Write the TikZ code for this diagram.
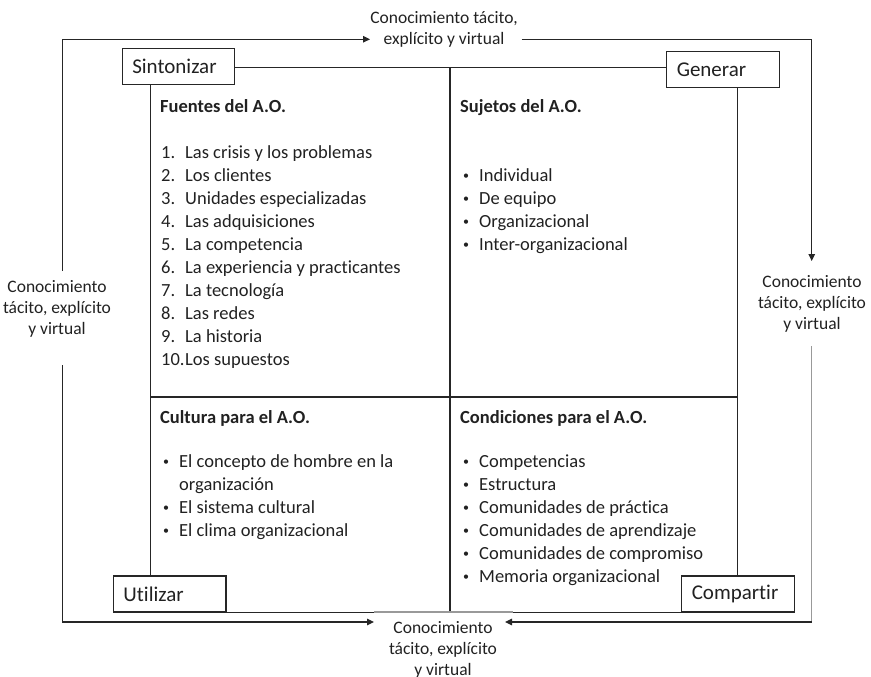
\documentclass[tikz,border=0pt]{standalone}
\usepackage{fontspec}
\setmainfont{Carlito}[Ligatures=NoCommon]
\usetikzlibrary{arrows.meta}
\newcommand{\bul}{\makebox[16pt][l]{\raisebox{1.6pt}{\fontsize{12}{12}\selectfont •}}}
\begin{document}
\begin{tikzpicture}[x=1pt,y=-1pt,
 ln/.style={draw=black!85, line width=1.2pt},
 lnlight/.style={draw=black!40, line width=1.2pt},
 arr/.style={ln, -{Triangle[length=7pt,width=6.5pt]}},
 box/.style={draw=black!85, line width=1.2pt, fill=white, minimum width=112.5pt, minimum height=36pt, text width=92.5pt, inner xsep=10pt, inner ysep=0pt, align=left, font=\fontsize{21}{25}\selectfont, text=black!87},
 lab/.style={align=center, inner sep=0pt, font=\fontsize{17.5}{21}\selectfont, text=black!87},
 ttl/.style={anchor=base west, inner sep=0pt, font=\fontsize{18.5}{23}\selectfont\bfseries, text=black!87},
 itm/.style={anchor=base west, inner sep=0pt, font=\fontsize{18.5}{23}\selectfont, text=black!87}]
\useasboundingbox (0,0) rectangle (871,677);

% corner boxes
\node[box] (sint) at (178.5,66.4) {Sintonizar};
\node[box] (gen)  at (723,69.4) {Generar};
\node[box] (util) at (169.7,594) {Utilizar};
\node[box] (comp) at (738,594) {Compartir};

% inner grid coordinates
\coordinate (mt) at (450,67.3);
\coordinate (mb) at (450,611.7);
\coordinate (lv) at (150.3,397);
\coordinate (rv) at (737.7,397);

\draw[ln] (sint.east |- mt) -- (gen.west |- mt);
\draw[ln] (mt) -- (mb);
\draw[ln] (sint.south -| lv) -- (util.north -| lv);
\draw[ln] (gen.south -| rv) -- (comp.north -| rv);
\draw[ln] (lv) -- (rv);
\draw[ln] (util.south east) -- (comp.south west);
\draw[lnlight] (374,612) -- (513,612);

% outer labels
\node[lab] (labT) at (444,29.5) {Conocimiento tácito,\\explícito y virtual};
\node[lab] (labL) at (57,308.5) {Conocimiento\\tácito, explícito\\y virtual};
\node[lab] (labR) at (812,304) {Conocimiento\\tácito, explícito\\y virtual};
\node[lab] (labB) at (443,650) {Conocimiento\\tácito, explícito\\y virtual};

% outer connector coordinates
\coordinate (lo1) at (62.7,271);
\coordinate (lo2) at (62.7,365);
\coordinate (ta) at (370,39.3);
\coordinate (tb) at (521.7,39.3);
\coordinate (ra) at (811.7,261);
\coordinate (rb) at (811.7,346);
\coordinate (rc) at (811.7,622);
\coordinate (ba) at (505,622);
\coordinate (bb) at (374,622);

\draw[arr] (lo1) |- (ta);
\draw[arr] (tb) -| (ra);
\draw[lnlight] (rb) -- (rc);
\draw[arr] (rc) -- (ba);
\draw[arr] (lo2) |- (bb);

% Fuentes
\node[ttl] (tF) at (160,113) {Fuentes del A.O.};
\foreach \n/\t [count=\i from 0] in {1./Las crisis y los problemas, 2./Los clientes, 3./Unidades especializadas, 4./Las adquisiciones, 5./La competencia, 6./La experiencia y practicantes, 7./La tecnología, 8./Las redes, 9./La historia, 10./Los supuestos}
  \node[itm] (f\i) at (161,158.5+23*\i) {\makebox[24pt][l]{\n}\t};

% Sujetos
\node[ttl] (tS) at (460,113) {Sujetos del A.O.};
\foreach \t [count=\i from 0] in {Individual, De equipo, Organizacional, Inter-organizacional}
  \node[itm] (s\i) at (463,181+23*\i) {\bul\t};

% Cultura
\node[ttl] (tC) at (160,423) {Cultura para el A.O.};
\node[itm] (c0) at (163,467) {\bul El concepto de hombre en la};
\node[itm] (c1) at (179,490) {organización};
\node[itm] (c2) at (163,513) {\bul El sistema cultural};
\node[itm] (c3) at (163,536) {\bul El clima organizacional};

% Condiciones
\node[ttl] (tD) at (460,423) {Condiciones para el A.O.};
\foreach \t [count=\i from 0] in {Competencias, Estructura, Comunidades de práctica, Comunidades de aprendizaje, Comunidades de compromiso, Memoria organizacional}
  \node[itm] (d\i) at (463,467+23*\i) {\bul\t};
\end{tikzpicture}
\end{document}
